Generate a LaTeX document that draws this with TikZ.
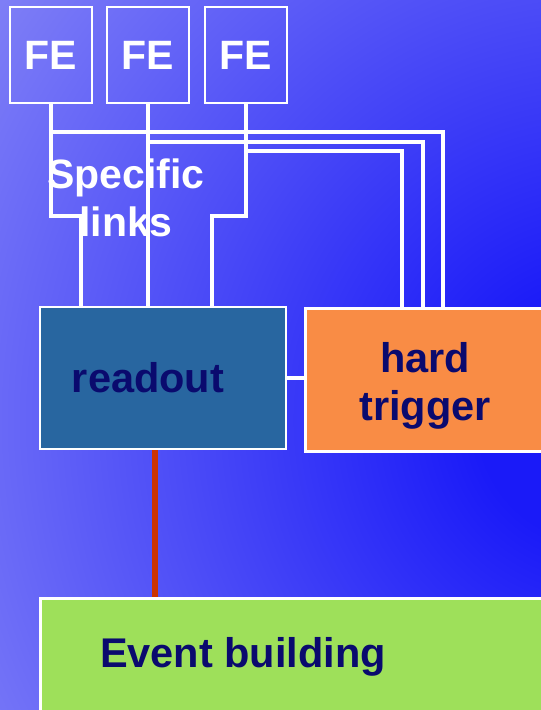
\documentclass[tikz,border=0pt]{standalone}
\usepackage{fontspec}
\setmainfont{Liberation Sans}
\usetikzlibrary{calc}
\definecolor{bgdark}{HTML}{1A1AF8}
\definecolor{bglight}{HTML}{9292F6}
\definecolor{navy}{HTML}{0A0A6E}
\definecolor{readfill}{HTML}{2866A0}
\definecolor{trigfill}{HTML}{F98C45}
\definecolor{evfill}{HTML}{9EE05A}
\definecolor{redlink}{HTML}{CC3300}
\pgfdeclareradialshading{bgshade}{\pgfpoint{0bp}{0bp}}{color(0bp)=(bgdark); color(4bp)=(bgdark); color(28bp)=(bglight); color(50bp)=(bglight)}
\tikzset{
  box/.style={draw=white, line width=2.5pt, inner sep=0pt, rectangle},
  fetext/.style={text=white, font=\fontsize{41}{48}\selectfont\bfseries},
  bigtext/.style={text=navy, font=\fontsize{41.5}{48}\selectfont\bfseries, inner sep=0pt, align=center},
  wlink/.style={draw=white, line width=3.6pt},
  rlink/.style={draw=redlink, line width=6pt}
}
\begin{document}
\begin{tikzpicture}[x=1pt,y=-1pt]
\useasboundingbox (0,0) rectangle (541,710);
\clip (0,0) rectangle (541,710);
\fill[bglight] (0,0) rectangle (541,710);
\shade[shading=bgshade] (600,420) circle[radius=760];

% FE boxes
\node[box, minimum width=82pt, minimum height=96pt, fetext] (fe1) at (51,55) {FE};
\node[box, minimum width=82pt, minimum height=96pt, fetext] (fe2) at (148,55) {FE};
\node[box, minimum width=82pt, minimum height=96pt, fetext] (fe3) at (246,55) {FE};

% main boxes
\node[box, fill=readfill, minimum width=246pt, minimum height=142pt] (readout) at (163,378) {};
\node[box, fill=trigfill, minimum width=260pt, minimum height=143pt, anchor=north west] (trig) at (304,307) {};
\node[box, fill=evfill, minimum width=530pt, minimum height=140pt, anchor=north west] (event) at (39,597) {};

% links FE -> readout
\draw[wlink] (fe1.south) -- ++(0,112) -| ([xshift=42pt]readout.north west);
\draw[wlink] (fe2.south) -- (fe2.south |- readout.north);
\draw[wlink] (fe3.south) -- ++(0,112) -| ([xshift=173pt]readout.north west);

% links FE -> trigger
\draw[wlink] ([yshift=-28pt]fe1.south) -| ([xshift=139pt]trig.north west);
\draw[wlink] ([yshift=-38pt]fe2.south) -| ([xshift=119pt]trig.north west);
\draw[wlink] ([yshift=-47pt]fe3.south) -| ([xshift=98pt]trig.north west);

% readout - trigger
\draw[wlink] (readout.east) -- (readout.east -| trig.west);

% readout - event building
\draw[rlink] ([xshift=116pt]readout.south west) -- ([xshift=116pt]readout.south west |- event.north);

% labels
\node[bigtext] (readlbl) at (148,378) {readout};
\node[bigtext] (triglbl) at (425,386) {hard\\trigger};
\node[bigtext] (evlbl) at (243,657) {Event building};
\node[fetext, inner sep=0pt, align=center] (spec) at (126,198) {Specific\\links};
\end{tikzpicture}
\end{document}
